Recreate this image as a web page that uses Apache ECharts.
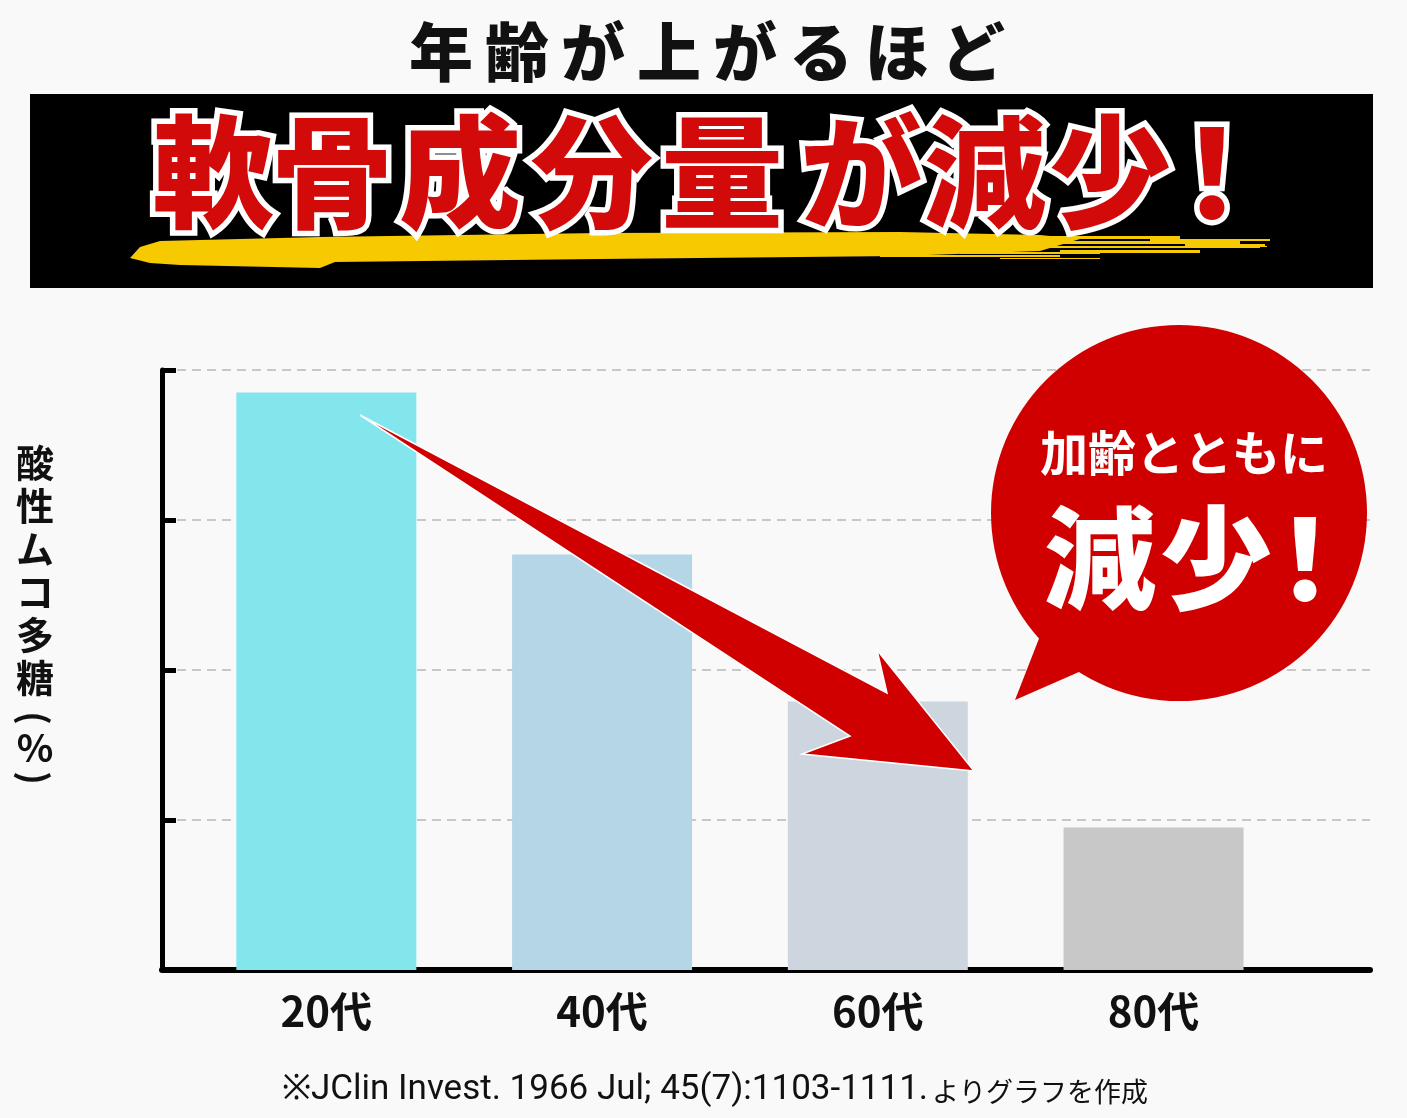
<!DOCTYPE html>
<html><head><meta charset="utf-8">
<script src="https://cdn.jsdelivr.net/npm/echarts@6/dist/echarts.min.js"></script>
<style>html,body{margin:0;padding:0;background:#f9f9f9}#c{width:1407px;height:1118px}</style>
</head><body><div id="c"></div>
<script>
// ---- data ----
const categories = ['20代', '40代', '60代', '80代'];
const values = [3.85, 2.77, 1.79, 0.95];
const categoryIndex = [0, 1, 2, 3];
const headline = '年齢が上がるほど';
const banner = '軟骨成分量が減少！';
const yNameChars = ['酸', '性', 'ム', 'コ', '多', '糖'];
const yNameUnit = ['(', '%', ')'];
const bubbleLine1 = '加齢とともに';
const bubbleLine2 = '減少！';
const footLatin = '※JClin Invest. 1966 Jul; 45(7):1103-1111.';
const footJa = 'よりグラフを作成';

// ---- layout / styles ----
const barColors = ['#84e6ed', '#b4d6e6', '#cdd6df', '#c8c8c8'];
const bannerX = [213, 332, 460, 592, 722, 861, 985, 1110, 1212];
const bubble2X = [1100, 1216, 1305];
const CJK = '"Noto Sans CJK JP", "Noto Sans", sans-serif';
const RED = '#d00000';

const chart = echarts.init(document.getElementById('c'));

const graphics = [];
// headline
headline.split('').forEach((ch, i) => {
  graphics.push({type: 'text', x: 441 + i * 76, y: 52, z: 10,
    style: {text: ch, fill: '#111', fontSize: 64, fontWeight: 900, fontFamily: CJK, align: 'center', verticalAlign: 'middle'}});
});
// black banner
graphics.push({type: 'rect', z: 5, shape: {x: 30, y: 94, width: 1343, height: 194}, style: {fill: '#000'}});
// yellow brush stroke
graphics.push({type: 'polygon', z: 6, shape: {points: [
  [130, 258], [140, 247], [160, 241], [320, 237], [600, 233], [900, 232], [1040, 235], [1080, 239],
  [1040, 251], [900, 256], [600, 259], [335, 262], [320, 268], [180, 265], [150, 263]]},
  style: {fill: '#f6c900'}});
const streaks = [[1000, 236, 180, 3], [1030, 241, 210, 3], [1000, 246, 260, 2], [1060, 250, 140, 3], [880, 255, 180, 2],
  [1150, 239, 120, 2], [1185, 244, 80, 2], [960, 252, 140, 2], [1230, 246, 37, 1], [1000, 258, 100, 1]];
streaks.forEach(s => graphics.push({type: 'rect', z: 6, shape: {x: s[0], y: s[1], width: s[2], height: s[3]}, style: {fill: '#f6c900'}}));
// banner text
banner.split('').forEach((ch, i) => {
  graphics.push({type: 'text', x: bannerX[i], y: 172, z: 7,
    style: {text: ch, fill: '#d20a0a', stroke: '#fff', lineWidth: 11, fontSize: 122, fontWeight: 900, fontFamily: CJK, align: 'center', verticalAlign: 'middle'}});
});
// y axis name
yNameChars.forEach((ch, i) => {
  graphics.push({type: 'text', x: 35, y: 463 + i * 43, z: 10,
    style: {text: ch, fill: '#111', fontSize: 38, fontWeight: 'bold', fontFamily: CJK, align: 'center', verticalAlign: 'middle'}});
});
yNameUnit.forEach((ch, i) => {
  const paren = ch !== '%';
  graphics.push({type: 'text', x: 35, y: [718, 748, 778][i], z: 10, rotation: paren ? -Math.PI / 2 : 0,
    style: {text: ch, fill: '#111', fontSize: paren ? 36 : 38, fontWeight: 'bold', fontFamily: CJK, align: 'center', verticalAlign: 'middle'}});
});
// arrow
graphics.push({type: 'polygon', z: 20, shape: {points: [[360, 415], [887, 693], [877, 650], [974, 771], [802, 754], [850, 736]]},
  style: {fill: RED, stroke: '#fff', lineWidth: 1.5}});
// speech bubble
graphics.push({type: 'circle', z: 20, shape: {cx: 1179, cy: 513, r: 188}, style: {fill: RED}});
graphics.push({type: 'polygon', z: 20, shape: {points: [[1040, 636], [1015, 700], [1088, 668]]}, style: {fill: RED}});
graphics.push({type: 'text', x: 1184, y: 453, z: 21,
  style: {text: bubbleLine1, fill: '#fff', fontSize: 48, fontWeight: 'bold', fontFamily: CJK, align: 'center', verticalAlign: 'middle'}});
bubbleLine2.split('').forEach((ch, i) => {
  graphics.push({type: 'text', x: bubble2X[i], y: 558, z: 21,
    style: {text: ch, fill: '#fff', fontSize: 112, fontWeight: 900, fontFamily: CJK, align: 'center', verticalAlign: 'middle'}});
});
// footnote
graphics.push({type: 'text', x: 715, y: 1090, z: 10,
  style: {text: '{a|' + footLatin + '}{b|' + footJa + '}', align: 'center', verticalAlign: 'middle',
    rich: {a: {fill: '#111', fontSize: 35, fontFamily: 'Roboto, "Liberation Sans", sans-serif'},
           b: {fill: '#111', fontSize: 27, fontFamily: CJK, padding: [3, 0, 0, 4]}}}});

chart.setOption({
  backgroundColor: '#f9f9f9',
  animation: false,
  grid: {left: 162, right: 37, top: 370, bottom: 148, containLabel: false},
  xAxis: {
    type: 'value', min: -0.596, max: 3.785,
    axisLine: {show: true, onZero: false, lineStyle: {color: '#000', width: 6}},
    axisTick: {show: false},
    splitLine: {show: false},
    axisLabel: {customValues: categoryIndex, formatter: v => categories[Math.round(v)],
      color: '#111', fontSize: 42, fontWeight: 'bold', fontFamily: CJK, margin: 20}
  },
  yAxis: {
    type: 'value', min: 0, max: 4, interval: 1,
    axisLine: {show: true, onZero: false, lineStyle: {color: '#000', width: 5}},
    axisTick: {show: true, inside: true, length: 14, lineStyle: {color: '#000', width: 5}},
    axisLabel: {show: false},
    splitLine: {show: true, lineStyle: {color: '#c8c8c8', width: 2, type: [9, 6]}}
  },
  series: [{
    type: 'bar', barWidth: 180, z: 2,
    data: values.map((v, i) => ({value: [categoryIndex[i], v], itemStyle: {color: barColors[i]}}))
  }],
  graphic: graphics
});
</script></body></html>
